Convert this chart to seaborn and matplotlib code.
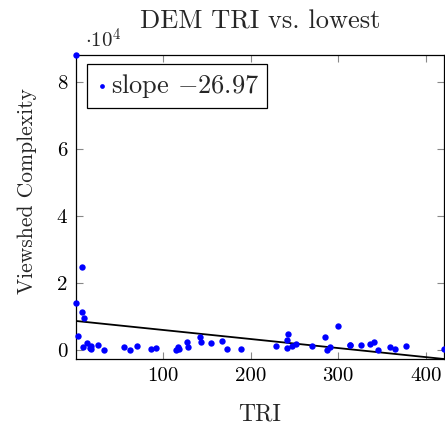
import numpy as np
import pandas as pd
import matplotlib
matplotlib.use("Agg")
import matplotlib.pyplot as plt
import seaborn as sns

# Data
tri = [0, 0.4, 6.8, 7.5, 9.8, 2.3, 8.7, 13.2, 17, 17.8, 16, 25.4, 32,
       55, 62, 69.5, 86.6, 92, 115, 117, 118, 127.7, 128, 142, 143, 155,
       167, 173, 188.5, 229, 243, 241.7, 241, 247, 252, 270, 284.7, 300,
       287, 290.6, 313, 314, 326.5, 336, 340.5, 345.5, 359.5, 364.5, 377, 421]
complexity = [88000, 13900, 24700, 11400, 9450, 4300, 800, 2200, 1200, 200,
              600, 1500, 0, 800, 100, 1300, 300, 500, 0, 800, 200, 2500, 800,
              4000, 2300, 2200, 2600, 200, 200, 1200, 4900, 3000, 700, 1200,
              1800, 1100, 4000, 7200, 0, 1000, 1400, 1500, 1500, 1800, 2300,
              0, 900, 200, 1100, 200]
slope = -26.97
intercept = 8650
title = "DEM TRI vs. lowest"
x_label = "TRI"
y_label = "Viewshed Complexity"
x_ticks = [100, 200, 300, 400]
y_ticks = [0, 20000, 40000, 60000, 80000]

df = pd.DataFrame({"TRI": tri, "Complexity": complexity})
xmin, xmax = min(tri), max(tri)
line_df = pd.DataFrame({"TRI": [xmin, xmax],
                        "fit": [intercept + slope * xmin, intercept + slope * xmax]})

sns.set_style("ticks")
plt.rcParams["font.family"] = ["cmr10", "DejaVu Serif"]
plt.rcParams["mathtext.fontset"] = "cm"
plt.rcParams["axes.unicode_minus"] = False
plt.rcParams["axes.formatter.use_mathtext"] = True

fig = plt.figure(figsize=(4.45, 4.26), dpi=100)
ax = fig.add_axes([75.7 / 445, 1 - 359 / 426, (444 - 75.7) / 445, (359 - 55) / 426])

sns.lineplot(data=line_df, x="TRI", y="fit", ax=ax, color="black", linewidth=1.3,
             zorder=2, legend=False)
sns.scatterplot(data=df, x="TRI", y="Complexity", ax=ax, color="#0000ff",
                s=21, linewidth=0, zorder=3, clip_on=False,
                label=r"slope $-26.97$")

ax.set_xlim(xmin, xmax)
ax.set_ylim(intercept + slope * xmax, max(complexity))

ax.set_xticks(x_ticks)
ax.set_xticklabels([str(t) for t in x_ticks])
ax.set_yticks(y_ticks)
ax.set_yticklabels([str(int(t / 1e4)) for t in y_ticks])

ax.tick_params(direction="in", length=5, width=0.8, color="#888888",
               top=True, right=True, labelsize=15, pad=6, labelcolor="black")
for sp in ax.spines.values():
    sp.set_color("black")
    sp.set_linewidth(0.9)

ax.set_xlabel(x_label, fontsize=17)
ax.set_ylabel(y_label, fontsize=15.5)
ax.xaxis.set_label_coords(0.5, -0.145)
ax.yaxis.set_label_coords(-0.104, 0.553)

ax.set_title(title, fontsize=19, pad=19)
ax.text(0.025, 1.012, r"$\cdot 10^4$", transform=ax.transAxes, fontsize=15,
        ha="left", va="bottom")

leg = ax.legend(loc="upper left", bbox_to_anchor=(0.031, 0.97), borderaxespad=0,
                fontsize=19, frameon=True, fancybox=False, handletextpad=0.1,
                handlelength=0.5, borderpad=0.3, markerscale=0.75)
leg.get_frame().set_edgecolor("black")
leg.get_frame().set_linewidth(0.9)
leg.get_frame().set_alpha(1)

fig.savefig("out.png", dpi=100)
